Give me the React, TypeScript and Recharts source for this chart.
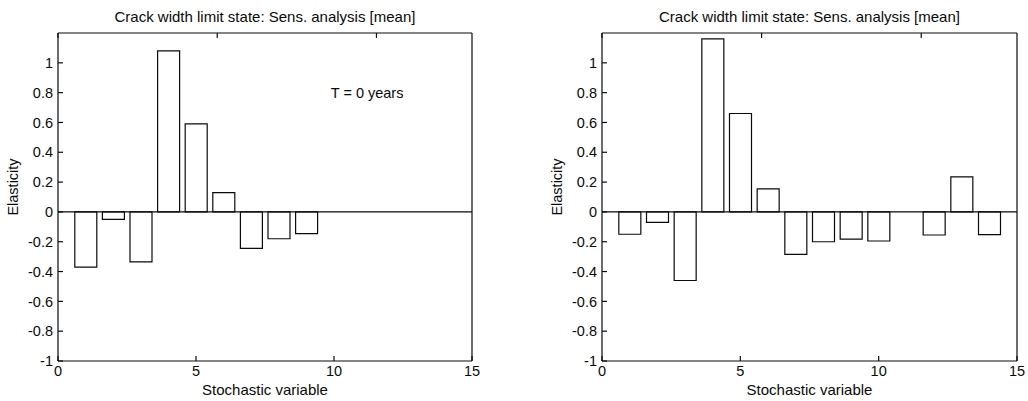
import React from 'react'
import { ComposedChart, Bar, XAxis, YAxis, ReferenceLine, ReferenceDot } from 'recharts'

// stochastic variable index 1..14, elasticity at T = 0 (left) and later (right)
const VARIABLES = [1, 2, 3, 4, 5, 6, 7, 8, 9, 10, 11, 12, 13, 14]
const ELASTICITY_T0 = [-0.37, -0.05, -0.335, 1.08, 0.59, 0.13, -0.245, -0.18, -0.145, 0, 0, 0, 0, 0]
const ELASTICITY_T1 = [-0.15, -0.07, -0.46, 1.16, 0.66, 0.155, -0.285, -0.2, -0.183, -0.195, 0, -0.155, 0.235, -0.152]

const X_TICKS = [0, 5, 10, 15]
const Y_TICKS = [-1, -0.8, -0.6, -0.4, -0.2, 0, 0.2, 0.4, 0.6, 0.8, 1]

const TITLE = 'Crack width limit state: Sens. analysis [mean]'
const X_LABEL = 'Stochastic variable'
const Y_LABEL = 'Elasticity'
const NOTE = 'T = 0 years'

const INK = '#0a0a0a'
const FONT = '"Liberation Sans", Arial, Helvetica, sans-serif'
const W = 514
const H = 401

interface PanelProps {
  values: number[]
  left: number
  yWidth: number
  marginLeft: number
  marginRight: number
  yLabelX: number
  note?: string
}

function Panel({ values, left, yWidth, marginLeft, marginRight, yLabelX, note }: PanelProps) {
  const rows = VARIABLES.map((v, i) => ({ v, e: values[i] }))
  const plotLeft = marginLeft + yWidth
  const plotRight = W - marginRight - 1
  const plotW = plotRight - plotLeft
  const tick = { fill: INK, fontSize: 14.5, fontFamily: FONT }

  return (
    <div style={{ position: 'absolute', left, top: 0, width: W, height: H }}>
      <ComposedChart width={W} height={H} data={rows} margin={{ top: 32, right: marginRight, bottom: 0, left: marginLeft }}>
        <XAxis xAxisId="b" dataKey="v" type="number" domain={[0, 15]} ticks={X_TICKS} interval={0}
          height={40} tickSize={-5} tickMargin={10} stroke={INK} strokeWidth={1.2} tick={tick} />
        <XAxis xAxisId="t" orientation="top" type="number" domain={[0, 15]} ticks={X_TICKS} interval={0}
          height={1} tickSize={-5} stroke={INK} strokeWidth={1.2} tickFormatter={() => ''} />
        <YAxis yAxisId="l" type="number" domain={[-1, 1.2]} ticks={Y_TICKS} interval={0}
          width={yWidth} tickSize={-5} tickMargin={10} stroke={INK} strokeWidth={1.2} tick={tick} />
        <YAxis yAxisId="r" orientation="right" type="number" domain={[-1, 1.2]} ticks={Y_TICKS} interval={0}
          width={1} tickSize={-5} stroke={INK} strokeWidth={1.2} tickFormatter={() => ''} />
        <ReferenceLine xAxisId="b" yAxisId="l" y={0} stroke={INK} strokeWidth={1.2} />
        <Bar xAxisId="b" yAxisId="l" dataKey="e" fill="#fff" stroke={INK} strokeWidth={1.2} barSize={22} isAnimationActive={false} />
        {note && (
          <ReferenceDot xAxisId="b" yAxisId="l" x={11.2} y={0.8} r={1} fill="none" stroke="none"
            label={{ value: note, position: 'center', fill: INK, fontSize: 14.5, fontFamily: FONT }} />
        )}
      </ComposedChart>
      <div style={{ position: 'absolute', left: plotLeft, top: 9, width: plotW, textAlign: 'center', fontSize: 15, lineHeight: '15px', whiteSpace: 'nowrap' }}>
        {TITLE}
      </div>
      <div style={{ position: 'absolute', left: plotLeft, top: 382, width: plotW, textAlign: 'center', fontSize: 15, lineHeight: '15px', whiteSpace: 'nowrap' }}>
        {X_LABEL}
      </div>
      <div style={{ position: 'absolute', left: yLabelX - 50, top: 187 - 8, width: 100, height: 16, lineHeight: '16px', textAlign: 'center', fontSize: 14.5, transform: 'rotate(-90deg)' }}>
        {Y_LABEL}
      </div>
    </div>
  )
}

export default function App() {
  return (
    <div style={{ position: 'absolute', left: 0, top: 0, width: 1028, height: 401, background: '#fff', fontFamily: FONT, color: INK }}>
      <Panel values={ELASTICITY_T0} left={0} yWidth={58} marginLeft={0} marginRight={41} yLabelX={13} note={NOTE} />
      <Panel values={ELASTICITY_T1} left={514} yWidth={60} marginLeft={28} marginRight={10} yLabelX={43} />
    </div>
  )
}
